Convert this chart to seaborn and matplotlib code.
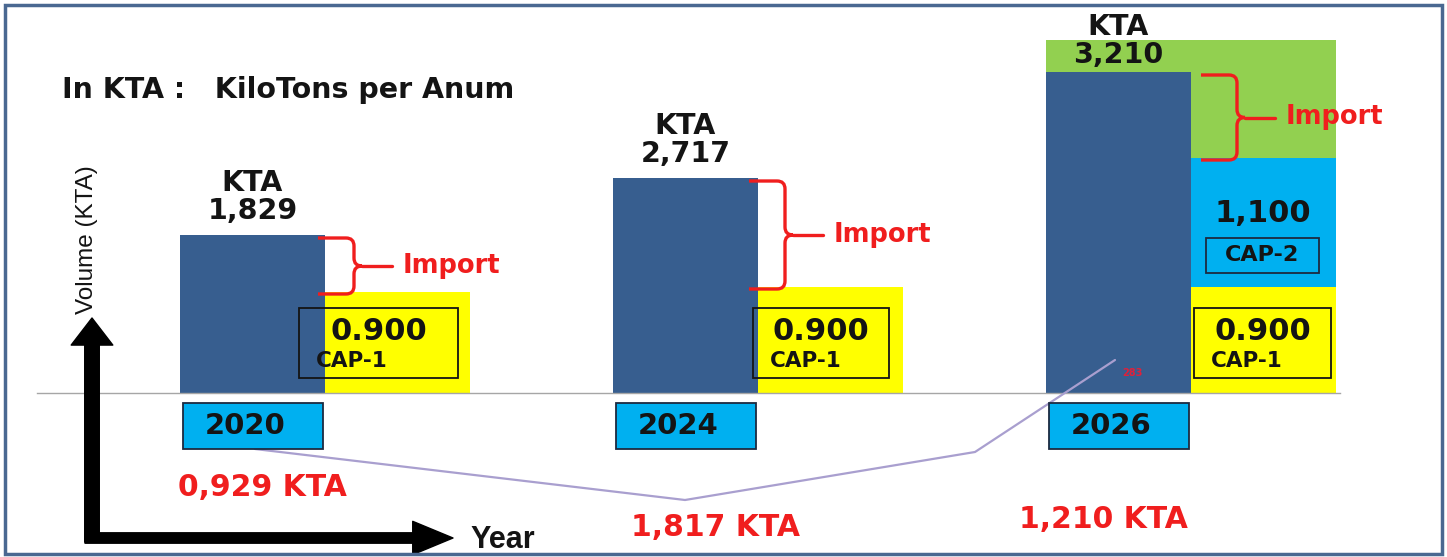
import numpy as np
import pandas as pd
import seaborn as sns
import matplotlib.pyplot as plt
from matplotlib.patches import Rectangle, FancyArrowPatch, PathPatch
from matplotlib.path import Path

years = ['2020', '2024', '2026']
demand_kta = [1829, 2717, 3210]
cap1_kta = [900, 900, 900]
cap2_kta = [0, 0, 1100]
small_note = ['', '', '283']

# bar heights as drawn on the slide (the slide is not to scale), px above the baseline
demand_h = [158, 215, 321]
cap1_h = [101, 106, 106]
cap2_h = [0, 0, 129]
extra_h = [0, 0, 118]   # green block on top of 2026

BLUE, YELLOW, CYAN, GREEN = '#375E8F', '#FFFF00', '#00B0F0', '#92D050'
RED, INK = '#F01E1E', '#141414'

sns.set_style('white')
plt.rcParams['font.family'] = ['DejaVu Sans']

W, H = 1447, 557
PX = 1 / 433          # one reference pixel in category units
BW = 0.67             # dodge width -> each bar 0.335

fig = plt.figure(figsize=(W / 100, H / 100), dpi=100)
ax = fig.add_axes([0, 0, 1, 1])

cap_tot = [a + b for a, b in zip(cap1_h, cap2_h)]
all_tot = [a + b for a, b in zip(cap_tot, extra_h)]

# stacked layers for the capacity column, back to front
for tot, mask, col in [(all_tot, extra_h, GREEN), (cap_tot, cap2_h, CYAN)]:
    sub = pd.DataFrame({'year': years, 'series': 'CAP-1', 'h': tot})
    sub = sub[np.array(mask) > 0]
    sns.barplot(data=sub, x='year', y='h', hue='series', order=years,
                hue_order=['Demand', 'CAP-1'], palette={'Demand': BLUE, 'CAP-1': col},
                width=BW, saturation=1, legend=False, errorbar=None,
                edgecolor='none', linewidth=0, ax=ax)

main = pd.DataFrame({'year': years * 2,
                     'series': ['Demand'] * 3 + ['CAP-1'] * 3,
                     'h': demand_h + cap1_h})
sns.barplot(data=main, x='year', y='h', hue='series', order=years,
            hue_order=['Demand', 'CAP-1'], palette={'Demand': BLUE, 'CAP-1': YELLOW},
            width=BW, saturation=1, legend=False, errorbar=None,
            edgecolor='none', linewidth=0, ax=ax)

ax.set_xlim(-325 * PX, (W - 325) * PX)
ax.set_ylim(-(H - 393), 393)
ax.set_xlabel('')
ax.set_ylabel('')
ax.set_facecolor('white')
for s in ['top', 'right', 'left']:
    ax.spines[s].set_visible(False)
ax.spines['bottom'].set_position(('data', 0))
ax.spines['bottom'].set_bounds(-288 * PX, 1015 * PX)
ax.spines['bottom'].set_color('#A6A6A6')
ax.spines['bottom'].set_linewidth(1)
edges = sorted([i + d for i in range(3) for d in (-BW / 2, 0, BW / 2)])
ax.set_xticks(edges)
ax.set_xticklabels([])
ax.tick_params(axis='x', length=5, width=1, color='#A6A6A6', direction='out')
ax.set_yticks([])

box_dx = [-26, -5, 3]
box_w = [159, 136, 137]
brace_dx = [-7, -9, 10]
label_gap = [10, 10, 3]
imp_dx = [10, 30, -15]
imp_y = [-95, -134, -127]

for i, yr in enumerate(years):
    bc = i - BW / 4
    # demand label
    ax.text(bc, demand_h[i] + label_gap[i], f'KTA\n{demand_kta[i]:,}', ha='center', va='bottom',
            fontsize=20.5, fontweight='bold', linespacing=0.98, color=INK)
    # CAP-1 box
    x0 = i + box_dx[i] * PX
    ax.add_patch(Rectangle((x0, 15), box_w[i] * PX, 70, fill=False, ec=INK, lw=1.3, zorder=3))
    xc = x0 + box_w[i] / 2 * PX
    ax.text(xc, 62, f'{cap1_kta[i] / 1000:.3f}', ha='center', va='center',
            fontsize=22, fontweight='bold', color=INK)
    ax.text(x0 + 17 * PX, 32, 'CAP-1', ha='left', va='center',
            fontsize=15.5, fontweight='bold', color=INK)
    # CAP-2
    if cap2_kta[i] > 0:
        ax.text(xc, cap_tot[i] - 55, f'{cap2_kta[i]:,}', ha='center', va='center',
                fontsize=22, fontweight='bold', color=INK)
        ax.add_patch(Rectangle((i + 15 * PX, cap_tot[i] - 115), 113 * PX, 35,
                               fill=False, ec='#1c2a40', lw=1.3, zorder=3))
        ax.text(i + 71.5 * PX, cap_tot[i] - 97, 'CAP-2', ha='center', va='center',
                fontsize=16, fontweight='bold', color=INK)
    # year box
    yx0 = i - BW / 2 + 3 * PX
    ax.add_patch(Rectangle((yx0, -56), 140 * PX, 46, fc=CYAN, ec='#1c2a40', lw=1.3, zorder=3))
    ax.text(yx0 + 62 * PX, -33, yr, ha='center', va='center',
            fontsize=21, fontweight='bold', color=INK, zorder=4)
    # import brace
    yhi, ylo = demand_h[i] - 3, cap_tot[i] - 2
    ym = (yhi + ylo) / 2
    bx0 = i + brace_dx[i] * PX
    xs = bx0 + 36 * PX
    rx, ry = 8 * PX, 8
    verts = [(bx0, yhi), (xs - rx, yhi), (xs, yhi), (xs, yhi - ry), (xs, ym + ry),
             (xs, ym), (xs + rx, ym), (xs, ym), (xs, ym - ry), (xs, ylo + ry),
             (xs, ylo), (xs - rx, ylo), (bx0, ylo)]
    codes = [Path.MOVETO, Path.LINETO, Path.CURVE3, Path.CURVE3, Path.LINETO,
             Path.CURVE3, Path.CURVE3, Path.CURVE3, Path.CURVE3, Path.LINETO,
             Path.CURVE3, Path.CURVE3, Path.LINETO]
    ax.add_patch(PathPatch(Path(verts, codes), fill=False, ec=RED, lw=2.4, zorder=4))
    ax.plot([xs + rx, xs + 38 * PX], [ym, ym], color=RED, lw=2.4, zorder=4)
    ax.text(xs + 49 * PX, ym, 'Import', ha='left', va='center',
            fontsize=18.5, fontweight='bold', color=RED)
    # import amount
    imp = (demand_kta[i] - cap1_kta[i] - cap2_kta[i]) / 1000
    ax.text(bc + imp_dx[i] * PX, imp_y[i], f'{imp:.3f}'.replace('.', ',') + ' KTA',
            ha='center', va='center', fontsize=21.5, fontweight='bold', color=RED)
    if small_note[i]:
        ax.text(bc + 13.5 * PX, 20, small_note[i], ha='center', va='center',
                fontsize=7, fontweight='bold', color='#E0203A')

# stray connector line on the slide
conn_px = [(255, 449), (685, 500), (975, 452), (1115, 360)]
ax.plot([(x - 325) * PX for x, _ in conn_px], [393 - y for _, y in conn_px],
        color='#A99FCF', lw=1.6, zorder=2.6)

# axis arrows
fig.add_artist(FancyArrowPatch((92 / W, 1 - 542 / H), (92 / W, 1 - 318 / H),
                               transform=fig.transFigure, color='black', shrinkA=0, shrinkB=0,
                               arrowstyle='simple,head_width=3.0,head_length=1.95,tail_width=1.05',
                               mutation_scale=10))
fig.add_artist(FancyArrowPatch((85 / W, 1 - 538 / H), (453 / W, 1 - 538 / H),
                               transform=fig.transFigure, color='black', shrinkA=0, shrinkB=0,
                               arrowstyle='simple,head_width=2.4,head_length=2.9,tail_width=0.75',
                               mutation_scale=10))
fig.text(87 / W, 1 - 240 / H, 'Volume (KTA)', rotation=90, ha='center', va='center',
         fontsize=17.5, family=['Liberation Sans'], color=INK)
fig.text(470 / W, 1 - 540 / H, 'Year', ha='left', va='center', fontsize=22,
         fontweight='bold', family=['Liberation Sans'], color=INK)
fig.text(62 / W, 1 - 90 / H, 'In KTA :   KiloTons per Anum', ha='left', va='center',
         fontsize=20.5, fontweight='bold', color=INK)

# slide frame
fig.add_artist(Rectangle((5 / W, 3 / H), (W - 10) / W, (H - 8) / H, transform=fig.transFigure,
                         fill=False, ec='#4A6891', lw=2.5))

fig.savefig('out.png', dpi=100)
